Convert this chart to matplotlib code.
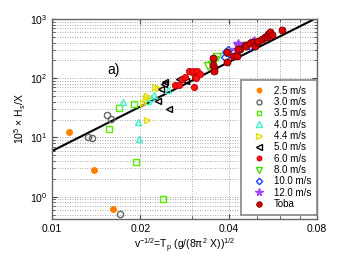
import matplotlib
matplotlib.use("Agg")
import matplotlib.pyplot as plt
from matplotlib.ticker import FixedLocator, FixedFormatter, LogLocator, LogFormatterMathtext, NullFormatter

plt.rcParams['font.family'] = ['Liberation Sans', 'DejaVu Sans']
plt.rcParams['mathtext.fontset'] = 'custom'
plt.rcParams['mathtext.rm'] = 'Liberation Sans'
plt.rcParams['mathtext.it'] = 'Liberation Sans'

# ---- data ----
x_25 = [0.0114, 0.0139, 0.0162]
y_25 = [12.5, 2.8, 0.63]

x_30 = [0.0133, 0.0137, 0.0154, 0.0159, 0.0170]
y_30 = [10.3, 9.8, 23.5, 20.7, 0.51]

x_35 = [0.0157, 0.0169, 0.0190, 0.0193, 0.0238]
y_35 = [14.0, 31.3, 36.6, 3.8, 0.92]

x_40 = [0.0175, 0.0196, 0.0198, 0.0212, 0.0218, 0.0222, 0.0249]
y_40 = [39.0, 18.0, 9.4, 42.0, 47.0, 53.0, 63.0]

x_44 = [0.0204, 0.0209, 0.0211, 0.0210, 0.0224, 0.0229]
y_44 = [38.0, 46.0, 50.0, 19.5, 72.0, 68.0]

x_50 = [0.0230, 0.0236, 0.0241, 0.0243, 0.0251, 0.0271, 0.0287]
y_50 = [41.0, 67.0, 80.0, 87.0, 30.0, 97.0, 90.0]

x_60 = [0.0263, 0.0270, 0.0278, 0.0284, 0.0293, 0.0299, 0.0303, 0.0305, 0.0307, 0.0310, 0.0312, 0.0320]
y_60 = [78.0, 77.6, 96.5, 104.0, 134.0, 127.0, 130.0, 71.0, 104.0, 100.0, 133.0, 118.0]

x_80 = [0.0341, 0.0350, 0.0357, 0.0365]
y_80 = [158.0, 168.0, 205.0, 226.0]

x_100 = [0.0389, 0.0392, 0.0398, 0.0473, 0.0485]
y_100 = [226.0, 275.0, 300.0, 356.0, 405.0]

x_120 = [0.0427, 0.0435, 0.0432, 0.0488]
y_120 = [300.0, 348.0, 380.0, 420.0]

x_toba = [0.0353, 0.0355, 0.0357, 0.0357, 0.0394, 0.0394, 0.0415, 0.0426, 0.0438, 0.0430,
          0.0455, 0.0460, 0.0473, 0.0484, 0.0493, 0.0499, 0.0505, 0.0518, 0.0530, 0.0540,
          0.0546, 0.0553, 0.0560, 0.0610]
y_toba = [218.0, 168.0, 148.0, 130.0, 275.0, 190.0, 235.0, 240.0, 310.0, 313.0,
          366.0, 356.0, 390.0, 415.0, 356.0, 406.0, 433.0, 465.0, 504.0, 493.0,
          550.0, 595.0, 540.0, 655.0]

line_x = [0.01, 0.08]
line_y = [5.9, 1050.0]

xticks = [0.01, 0.02, 0.04, 0.08]
xtick_labels = ['0.01', '0.02', '0.04', '0.08']

labels = ['2.5 m/s', '3.0 m/s', '3.5 m/s', '4.0 m/s', '4.4 m/s', '5.0 m/s',
          '6.0 m/s', '8.0 m/s', '10.0 m/s', '12.0 m/s', 'Toba']

# ---- figure ----
fig = plt.figure(figsize=(3.5, 2.59), dpi=100)
ax = fig.add_axes([52/350, 40/259, 265/350, 200/259])
ax.set_xscale('log')
ax.set_yscale('log')

ax.plot(line_x, line_y, color='black', lw=1.5, zorder=2)

ms = 4
ax.plot(x_25, y_25, 'o', ls='none', mfc='#ff8000', mec='#ff8000', ms=ms, label=labels[0], zorder=3)
ax.plot(x_30, y_30, 'o', ls='none', mfc='none', mec='#666666', mew=1, ms=ms+0.5, label=labels[1], zorder=3)
ax.plot(x_35, y_35, 's', ls='none', mfc='none', mec='#55ee00', mew=1, ms=ms, label=labels[2], zorder=3)
ax.plot(x_40, y_40, '^', ls='none', mfc='none', mec='#40f0c8', mew=1, ms=ms+1, label=labels[3], zorder=3)
ax.plot(x_44, y_44, '>', ls='none', mfc='none', mec='#e0e000', mew=1, ms=ms+1, label=labels[4], zorder=3)
ax.plot(x_50, y_50, '<', ls='none', mfc='none', mec='black', mew=1, ms=ms+1, label=labels[5], zorder=3)
ax.plot(x_60, y_60, 'o', ls='none', mfc='#ff1010', mec='#c00000', mew=0.6, ms=ms+0.5, label=labels[6], zorder=4)
ax.plot(x_80, y_80, 'v', ls='none', mfc='none', mec='#44dd00', mew=1, ms=ms+2, label=labels[7], zorder=3)
ax.plot(x_100, y_100, 'D', ls='none', mfc='none', mec='#2040ff', mew=1, ms=ms, label=labels[8], zorder=3)
ax.plot(x_120, y_120, '*', ls='none', mfc='#a040ff', mec='#a040ff', ms=ms+3, label=labels[9], zorder=3)
ax.plot(x_toba, y_toba, 'o', ls='none', mfc='#e00000', mec='#700000', mew=0.6, ms=ms+1, label=labels[10], zorder=5)

ax.set_xlim(0.01, 0.08)
ax.set_ylim(0.42, 1000)

ax.xaxis.set_major_locator(FixedLocator(xticks))
ax.xaxis.set_major_formatter(FixedFormatter(xtick_labels))
ax.xaxis.set_minor_locator(LogLocator(base=10, subs=[3, 5, 6, 7]))
ax.xaxis.set_minor_formatter(NullFormatter())
ax.yaxis.set_major_locator(LogLocator(base=10, numticks=10))
ax.yaxis.set_major_formatter(LogFormatterMathtext())
ax.yaxis.set_minor_locator(LogLocator(base=10, subs=range(2, 10), numticks=20))
ax.yaxis.set_minor_formatter(NullFormatter())

ax.grid(True, which='both', ls=(0, (1, 2)), color='#888888', lw=0.6)
ax.tick_params(which='both', direction='in', top=True, right=True, labelsize=7.5, colors='#444444', labelcolor='black')
ax.tick_params(which='major', length=3.5)
ax.tick_params(which='minor', length=2)
for s in ax.spines.values():
    s.set_color('#666666')
    s.set_linewidth(1.0)

ax.set_xlabel(r'v$^{-1/2}$=T$_\mathrm{p}$ (g/(8$\pi^2$ X))$^{1/2}$', fontsize=7.5, labelpad=2)
ax.set_ylabel(r'10$^5$ $\times$ H$_\mathrm{s}$/X', fontsize=7.5, labelpad=1)

ax.text(0.0155, 140, 'a)', fontsize=10, va='center')

leg = ax.legend(loc='lower right', bbox_to_anchor=(1.0, 0.02), borderaxespad=0,
                fontsize=7, labelspacing=0.14, handletextpad=0.3, handlelength=2.5,
                borderpad=0.6, markerscale=0.8, fancybox=False, framealpha=1,
                edgecolor='#888888', numpoints=1)
leg.get_frame().set_linewidth(1.2)

fig.savefig('out.png', dpi=100)
